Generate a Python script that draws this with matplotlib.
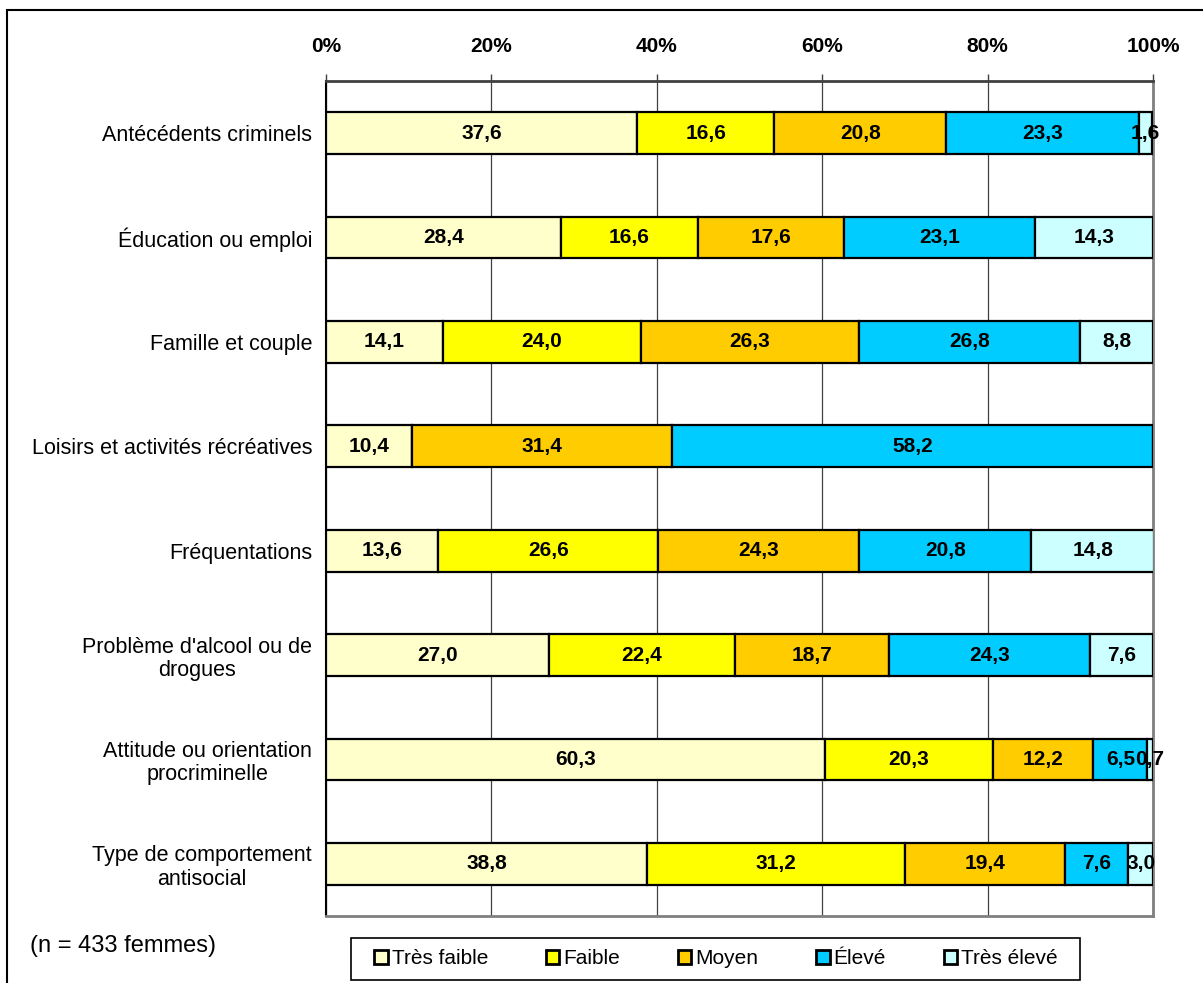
import numpy as np
import matplotlib
matplotlib.use("Agg")
import matplotlib.pyplot as plt
from matplotlib.patches import Rectangle

plt.rcParams['font.family'] = ['Liberation Sans', 'DejaVu Sans']

categories = [
    "Antécédents criminels",
    "Éducation ou emploi",
    "Famille et couple",
    "Loisirs et activités récréatives",
    "Fréquentations",
    "Problème d'alcool ou de\ndrogues",
    "Attitude ou orientation\nprocriminelle",
    "Type de comportement\nantisocial",
]
levels = ["Très faible", "Faible", "Moyen", "Élevé", "Très élevé"]
colors = ["#FFFFCC", "#FFFF00", "#FFCC00", "#00CCFF", "#CCFFFF"]

tres_faible = [37.6, 28.4, 14.1, 10.4, 13.6, 27.0, 60.3, 38.8]
faible      = [16.6, 16.6, 24.0, 0.0, 26.6, 22.4, 20.3, 31.2]
moyen       = [20.8, 17.6, 26.3, 31.4, 24.3, 18.7, 12.2, 19.4]
eleve       = [23.3, 23.1, 26.8, 58.2, 20.8, 24.3, 6.5, 7.6]
tres_eleve  = [1.6, 14.3, 8.8, 0.0, 14.8, 7.6, 0.7, 3.0]
series = [tres_faible, faible, moyen, eleve, tres_eleve]

fig = plt.figure(figsize=(12.03, 9.83), dpi=100)
ax = fig.add_axes([326 / 1203, 1 - 916 / 983, (1153 - 326) / 1203, (916 - 81) / 983])

y = np.arange(len(categories))
left = np.zeros(len(categories))
for vals, col, lab in zip(series, colors, levels):
    vals = np.array(vals)
    ax.barh(y, vals, left=left, height=0.4, color=col, edgecolor="black",
            linewidth=1.6, label=lab, zorder=3)
    for yi, l, v in zip(y, left, vals):
        if v > 0:
            ax.text(l + v / 2, yi, f"{v:.1f}".replace(".", ","), ha="center",
                    va="center", fontsize=15, fontweight="bold", zorder=4)
    left += vals

ax.set_xlim(0, 100)
ax.set_ylim(len(categories) - 0.5, -0.5)
ax.set_yticks(y)
ax.set_yticklabels(categories, fontsize=15.5, multialignment="center",
                   linespacing=1.15)
ax.tick_params(axis="y", length=0, pad=10)
ax.xaxis.tick_top()
ax.set_xticks(np.arange(0, 101, 20))
ax.set_xticklabels([f"{v}%" for v in range(0, 101, 20)], fontsize=15, fontweight="bold")
ax.tick_params(axis="x", direction="out", length=5, width=1, pad=13, color="#404040")
ax.grid(axis="x", color="#404040", linewidth=0.9, zorder=0)
for side in ["top", "right", "bottom"]:
    ax.spines[side].set_color("#808080")
    ax.spines[side].set_linewidth(2)
ax.spines["top"].set_color("#404040")
ax.spines["left"].set_color("black")
ax.spines["left"].set_linewidth(1.5)

# legend entries without frame, box drawn separately
fig.legend(loc="center left", ncol=5, mode="expand",
           bbox_to_anchor=(374 / 1203, 1 - 980 / 983, (1058 - 374) / 1203, 42 / 983),
           fontsize=15, frameon=False,
           handlelength=0.65, handleheight=0.65, handletextpad=0.2,
           borderaxespad=0, borderpad=0)
leg = fig.legends[0]
for h in leg.legend_handles:
    h.set_linewidth(2)
fig.patches.append(Rectangle((351 / 1203, 1 - 980 / 983), (1080 - 351) / 1203, 42 / 983,
                             transform=fig.transFigure, fill=False,
                             edgecolor="black", linewidth=1.2))

fig.text(30 / 1203, 1 - 946 / 983, "(n = 433 femmes)", fontsize=17, va="center", ha="left")

fig.patches.append(Rectangle((7 / 1203, -0.01), 1.0, 1 - 10 / 983 + 0.01,
                             transform=fig.transFigure, fill=False,
                             edgecolor="black", linewidth=1.5))

fig.savefig("out.png", dpi=100)
